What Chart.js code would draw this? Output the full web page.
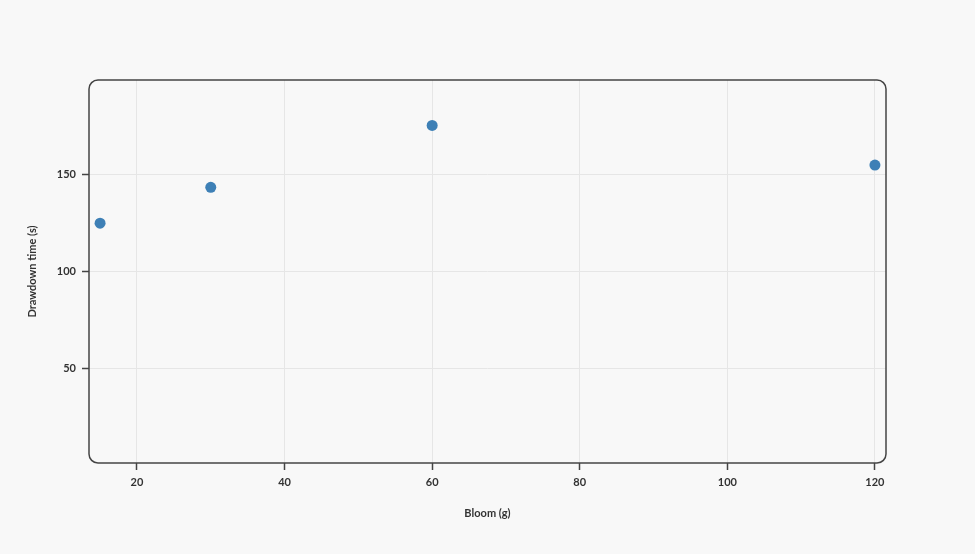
<!DOCTYPE html>
<html>
<head>
<meta charset="utf-8">
<script src="https://cdn.jsdelivr.net/npm/chart.js@4"></script>
<style>
  html, body { margin: 0; padding: 0; background: #f8f8f8; }
  canvas { display: block; }
</style>
</head>
<body>
<canvas id="bloomChart" width="975" height="554"></canvas>
<script>
// DATA
var bloom_grams = [15, 30, 60, 120];
var drawdown_seconds = [125, 143.5, 175.5, 155];
var x_ticks = [20, 40, 60, 80, 100, 120];
var y_ticks = [50, 100, 150];

// rounded frame around the plot area
var frameBox = {
  id: 'frameBox',
  afterDatasetsDraw: function(chart) {
    var a = chart.chartArea;
    var ctx = chart.ctx;
    ctx.save();
    ctx.strokeStyle = '#444444';
    ctx.lineWidth = 1.5;
    ctx.beginPath();
    ctx.roundRect(a.left, a.top, a.right - a.left, a.bottom - a.top, 9);
    ctx.stroke();
    ctx.restore();
  }
};

var tickFont = { family: 'Lato', size: 11, weight: 'bold' };

var points = bloom_grams.map(function(x, i) {
  return { x: x, y: drawdown_seconds[i] };
});

new Chart(document.getElementById('bloomChart'), {
  type: 'scatter',
  data: {
    datasets: [{
      label: 'Drawdown',
      data: points,
      backgroundColor: '#3e80b6',
      borderWidth: 0,
      pointRadius: 5.5,
      pointHoverRadius: 5.5
    }]
  },
  options: {
    responsive: false,
    animation: false,
    layout: { padding: { left: 0, top: 80, right: 89, bottom: 0 } },
    plugins: {
      legend: { display: false },
      tooltip: { enabled: false }
    },
    scales: {
      x: {
        type: 'linear',
        min: 13.5,
        max: 121.5,
        afterFit: function(scale) { scale.height = 91; },
        afterBuildTicks: function(scale) {
          scale.ticks = x_ticks.map(function(v) { return { value: v }; });
        },
        border: { display: false },
        grid: { color: '#e6e6e6', lineWidth: 1, tickColor: '#444444', tickLength: 7, tickWidth: 1.5 },
        ticks: { color: '#333333', font: tickFont, padding: 6, maxRotation: 0 },
        title: { display: true, text: 'Bloom (g)', color: '#333333', font: tickFont, padding: { top: 0, bottom: 34 } }
      },
      y: {
        type: 'linear',
        min: 1,
        max: 199,
        afterFit: function(scale) { scale.width = 89; },
        afterBuildTicks: function(scale) {
          scale.ticks = y_ticks.map(function(v) { return { value: v }; });
        },
        border: { display: false },
        grid: { color: '#e6e6e6', lineWidth: 1, tickColor: '#444444', tickLength: 7, tickWidth: 1.5 },
        ticks: { color: '#333333', font: tickFont, padding: 6 },
        title: { display: true, text: 'Drawdown time (s)', color: '#333333', font: tickFont, padding: { top: 26, bottom: 0 } }
      }
    }
  },
  plugins: [frameBox]
});
</script>
</body>
</html>
